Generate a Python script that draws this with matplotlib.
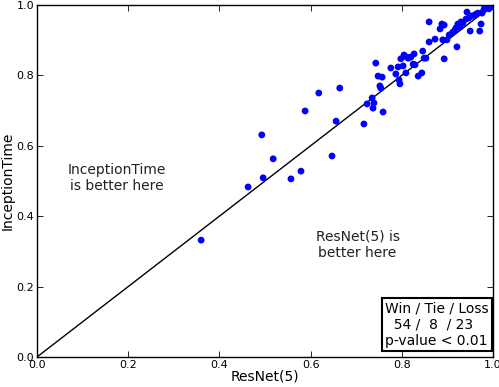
import matplotlib
matplotlib.use("Agg")
import matplotlib.pyplot as plt

resnet = [0.360, 0.463, 0.493, 0.496, 0.518, 0.557, 0.579, 0.588, 0.618, 0.647,
          0.656, 0.664, 0.717, 0.724, 0.735, 0.739, 0.737, 0.759, 0.743, 0.748,
          0.757, 0.752, 0.754, 0.776, 0.787, 0.792, 0.794, 0.796, 0.798, 0.805,
          0.803, 0.809, 0.811, 0.820, 0.825, 0.829, 0.827, 0.836, 0.844, 0.846,
          0.849, 0.853, 0.860, 0.860, 0.873, 0.884, 0.888, 0.890, 0.893, 0.899,
          0.893, 0.912, 0.917, 0.921, 0.923, 0.930, 0.934, 0.941, 0.943, 0.947,
          0.950, 0.954, 0.961, 0.967, 0.971, 0.974, 0.976, 0.982, 0.989, 0.996,
          0.991, 0.985, 0.928, 0.919, 0.993, 0.998, 0.980, 0.963, 0.814, 0.904,
          1.000, 0.990, 0.995]
inception = [0.332, 0.483, 0.631, 0.509, 0.563, 0.506, 0.528, 0.699, 0.750, 0.571,
             0.670, 0.764, 0.662, 0.719, 0.736, 0.722, 0.707, 0.696, 0.835, 0.798,
             0.795, 0.770, 0.764, 0.821, 0.804, 0.824, 0.787, 0.776, 0.847, 0.858,
             0.827, 0.807, 0.852, 0.852, 0.832, 0.830, 0.861, 0.798, 0.807, 0.869,
             0.849, 0.849, 0.895, 0.952, 0.903, 0.932, 0.946, 0.901, 0.847, 0.901,
             0.943, 0.923, 0.929, 0.881, 0.946, 0.952, 0.949, 0.960, 0.980, 0.963,
             0.926, 0.969, 0.972, 0.977, 0.926, 0.946, 0.977, 0.994, 0.994, 0.994,
             0.989, 0.994, 0.938, 0.935, 0.997, 0.997, 0.986, 0.974, 0.849, 0.915,
             1.000, 0.990, 0.995]

ticks = [0.0, 0.2, 0.4, 0.6, 0.8, 1.0]
tick_labels = ["0.0", "0.2", "0.4", "0.6", "0.8", "1.0"]
x_label = "ResNet(5)"
y_label = "InceptionTime"
stats_text = "Win / Tie / Loss\n  54 /  8  / 23\np-value < 0.01"

plt.rcParams['font.family'] = ['DejaVu Sans']

fig = plt.figure(figsize=(4.99, 3.87), dpi=100)
ax = fig.add_axes([0.0741, 0.0775, 0.9138, 0.9096])

ax.plot([0, 1], [0, 1], color='black', linewidth=1.0, zorder=1)
ax.scatter(resnet, inception, s=24, c='#0000ff', edgecolors='none', zorder=2)

ax.set_xlim(0, 1)
ax.set_ylim(0, 1)
ax.set_xticks(ticks)
ax.set_xticklabels(tick_labels)
ax.set_yticks(ticks)
ax.set_yticklabels(tick_labels)
ax.tick_params(direction='in', length=4, width=0.6, top=True, right=True,
               labelsize=8, pad=2, colors='black')
for sp in ax.spines.values():
    sp.set_linewidth(1.0)

ax.set_xlabel(x_label, fontsize=10, labelpad=0)
ax.set_ylabel(y_label, fontsize=10, labelpad=1)

ax.text(0.176, 0.508, "InceptionTime\nis better here", ha='center', va='center',
        fontsize=10, color='#222222')
ax.text(0.703, 0.319, "ResNet(5) is\nbetter here", ha='center', va='center',
        fontsize=10, color='#222222')

ax.text(0.991, 0.027, stats_text, transform=ax.transAxes, ha='right', va='bottom',
        multialignment='left', fontsize=10,
        bbox=dict(boxstyle='square,pad=0.25', facecolor='white', edgecolor='black',
                  linewidth=1.5))

fig.savefig("out.png", dpi=100, facecolor='white')
